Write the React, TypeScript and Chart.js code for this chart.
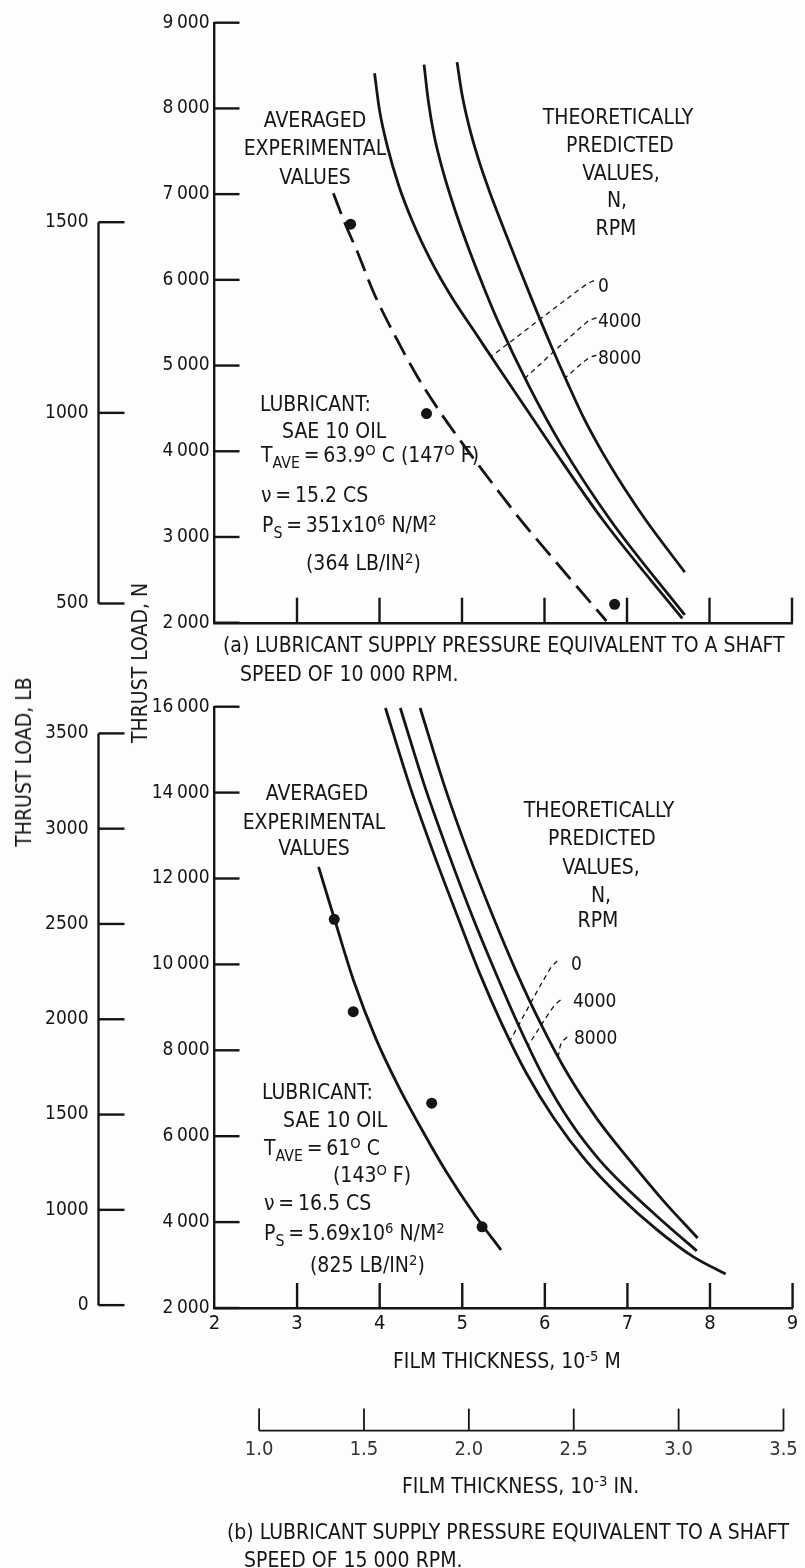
import React, { useEffect, useRef } from 'react';
import { Chart, registerables } from 'chart.js';

Chart.register(...registerables);

const FONT = "'DejaVu Sans Condensed', 'Liberation Sans Narrow', 'Arial Narrow', sans-serif";
const INK = '#151515';
const PAPER = '#fdfdfd';
const N_PER_LB = 4.448222;
const M5_PER_IN3 = 2.54; // 1e-3 in = 2.54e-5 m

// ---------- shared film-thickness axes ----------
const thicknessTicks = [2, 3, 4, 5, 6, 7, 8, 9];
const thicknessTickLabels = ['2', '3', '4', '5', '6', '7', '8', '9'];
const inchTicks = [1.0, 1.5, 2.0, 2.5, 3.0, 3.5];
const inchTickLabels = ['1.0', '1.5', '2.0', '2.5', '3.0', '3.5'];

// ---------- panel (a) ----------
const loadTicksA = [2000, 3000, 4000, 5000, 6000, 7000, 8000, 9000];
const loadTickLabelsA = ['2\u2009000', '3\u2009000', '4\u2009000', '5\u2009000', '6\u2009000', '7\u2009000', '8\u2009000', '9\u2009000'];
const lbTicksA = [500, 1000, 1500];
const lbTickLabelsA = ['500', '1000', '1500'];
const lbRangeA = [2000 / N_PER_LB, 9000 / N_PER_LB];

const expCurveA_thk = [3.44, 3.59, 3.73, 3.93, 4.17, 4.46, 4.74, 5.06, 5.31, 5.46, 5.71, 6.19, 6.75];
const expCurveA_load = [7010, 6640, 6330, 5850, 5380, 4870, 4450, 4020, 3700, 3510, 3200, 2650, 2020];
const expPointsA_thk = [3.65, 4.57, 6.85];
const expPointsA_load = [6650, 4440, 2215];

const theoA0_thk = [3.94, 4.0, 4.1, 4.23, 4.4, 4.62, 4.88, 5.17, 5.46, 6.07, 6.71, 7.67];
const theoA0_load = [8410, 7980, 7540, 7110, 6680, 6230, 5790, 5370, 4950, 4080, 3195, 2050];
const theoA4000_thk = [4.54, 4.59, 4.66, 4.77, 4.92, 5.1, 5.29, 5.46, 5.82, 6.19, 6.8, 7.7];
const theoA4000_load = [8510, 8100, 7695, 7265, 6800, 6315, 5850, 5465, 4745, 4095, 3195, 2090];
const theoA8000_thk = [4.94, 5.0, 5.09, 5.2, 5.33, 5.46, 5.66, 5.86, 6.07, 6.28, 6.48, 6.7, 6.97, 7.24, 7.7];
const theoA8000_load = [8540, 8165, 7775, 7405, 7040, 6710, 6220, 5740, 5255, 4795, 4380, 3990, 3565, 3180, 2590];

const leaderA0_thk = [6.6, 6.51, 5.36];
const leaderA0_load = [5990, 5950, 5110];
const leaderA4000_thk = [6.63, 6.53, 5.76];
const leaderA4000_load = [5555, 5520, 4850];
const leaderA8000_thk = [6.63, 6.54, 6.26];
const leaderA8000_load = [5120, 5090, 4865];

// ---------- panel (b) ----------
const loadTicksB = [2000, 4000, 6000, 8000, 10000, 12000, 14000, 16000];
const loadTickLabelsB = ['2\u2009000', '4\u2009000', '6\u2009000', '8\u2009000', '10\u2009000', '12\u2009000', '14\u2009000', '16\u2009000'];
const lbTicksB = [500, 1000, 1500, 2000, 2500, 3000, 3500];
const lbTickLabelsB = ['0', '1000', '1500', '2000', '2500', '3000', '3500'];
const lbRangeB = [485, 3640];

const expCurveB_thk = [3.26, 3.46, 3.69, 3.95, 4.22, 4.5, 4.81, 5.15, 5.47];
const expCurveB_load = [12270, 11010, 9590, 8290, 7190, 6190, 5160, 4170, 3350];
const expPointsB_thk = [3.45, 3.68, 4.63, 5.24];
const expPointsB_load = [11050, 8900, 6770, 3890];

const theoB0_thk = [4.07, 4.36, 4.66, 4.95, 5.22, 5.48, 5.77, 6.11, 6.49, 6.9, 7.36, 7.8, 8.19];
const theoB0_load = [15970, 14180, 12550, 11080, 9750, 8610, 7490, 6420, 5450, 4610, 3820, 3190, 2790];
const theoB4000_thk = [4.25, 4.54, 4.84, 5.13, 5.39, 5.68, 5.99, 6.31, 6.66, 7.04, 7.45, 7.84];
const theoB4000_load = [15970, 14180, 12550, 11080, 9870, 8590, 7360, 6330, 5450, 4700, 3980, 3330];
const theoB8000_thk = [4.49, 4.78, 5.08, 5.38, 5.65, 5.95, 6.27, 6.63, 7.03, 7.42, 7.85];
const theoB8000_load = [15970, 14180, 12550, 11080, 9850, 8620, 7470, 6410, 5430, 4530, 3630];

const leaderB0_thk = [6.15, 6.07, 5.58];
const leaderB0_load = [10080, 9920, 8230];
const leaderB4000_thk = [6.19, 6.11, 5.8];
const leaderB4000_load = [9170, 9030, 8120];
const leaderB8000_thk = [6.27, 6.2, 6.16];
const leaderB8000_load = [8310, 8170, 7830];

const rpmLabels = ['0', '4000', '8000'];

// ---------- helpers ----------
const pts = (xs: number[], ys: number[]) => xs.map((x, i) => ({ x, y: ys[i] }));
const labelFor = (vals: number[], labels: string[]) => (v: any) => {
  const i = vals.findIndex((t) => Math.abs(t - Number(v)) < 1e-6);
  return i >= 0 ? labels[i] : '';
};

const curve = (xs: number[], ys: number[], dash: number[] = []) => ({
  data: pts(xs, ys),
  showLine: true,
  borderColor: INK,
  borderWidth: 2.8,
  borderDash: dash,
  pointRadius: 0,
  cubicInterpolationMode: 'monotone',
  fill: false,
});
const leader = (xs: number[], ys: number[]) => ({
  data: pts(xs, ys),
  showLine: true,
  borderColor: INK,
  borderWidth: 1.3,
  borderDash: [5, 4],
  pointRadius: 0,
  tension: 0.35,
  fill: false,
});
const dots = (xs: number[], ys: number[]) => ({
  data: pts(xs, ys),
  showLine: false,
  pointRadius: 5.5,
  pointBackgroundColor: INK,
  pointBorderWidth: 0,
  order: -1,
});

const TICK = 25;
const LB_TICK = 26;
const IN_TICK = 22;

const decorPlugin = {
  id: 'decor',
  afterDraw(chart: any) {
    const ctx = chart.ctx;
    const { left, bottom } = chart.chartArea;
    const seg = (x1: number, y1: number, x2: number, y2: number) => {
      ctx.beginPath();
      ctx.moveTo(x1, y1);
      ctx.lineTo(x2, y2);
      ctx.stroke();
    };
    ctx.save();
    ctx.strokeStyle = INK;
    ctx.lineWidth = 2.4;
    ctx.lineCap = 'butt';
    const y = chart.scales.y;
    y.ticks.forEach((t: any) => {
      const p = y.getPixelForValue(t.value);
      seg(left, p, left + TICK, p);
    });
    const x = chart.scales.x;
    x.ticks.forEach((t: any) => {
      if (t.value <= x.min) return;
      const p = x.getPixelForValue(t.value);
      seg(p, bottom, p, bottom - TICK);
    });
    const lb = chart.scales.yLb;
    if (lb) {
      const vals = lb.ticks.map((t: any) => t.value);
      const xr = lb.right;
      seg(xr, lb.getPixelForValue(vals[0]), xr, lb.getPixelForValue(vals[vals.length - 1]));
      vals.forEach((v: number) => {
        const p = lb.getPixelForValue(v);
        seg(xr, p, xr + LB_TICK, p);
      });
    }
    const xi = chart.scales.xIn;
    if (xi) {
      const vals = xi.ticks.map((t: any) => t.value);
      ctx.lineWidth = 1.8;
      seg(xi.getPixelForValue(vals[0]), xi.top, xi.getPixelForValue(vals[vals.length - 1]), xi.top);
      vals.forEach((v: number) => {
        const p = xi.getPixelForValue(v);
        seg(p, xi.top, p, xi.top - IN_TICK);
      });
    }
    ctx.restore();
  },
};

type Spec = {
  padding: any;
  yMin: number;
  yMax: number;
  yTicks: number[];
  yLabels: string[];
  lbRange: number[];
  lbTicks: number[];
  lbLabels: string[];
  showXLabels: boolean;
  xHeight: number;
  inch: boolean;
  xInHeight?: number;
  datasets: any[];
};

function buildChart(canvas: HTMLCanvasElement, s: Spec) {
  const scales: any = {
    x: {
      type: 'linear',
      position: 'bottom',
      weight: 0,
      min: 2,
      max: 9,
      afterBuildTicks: (sc: any) => {
        sc.ticks = thicknessTicks.map((v) => ({ value: v }));
      },
      afterFit: (sc: any) => {
        sc.height = s.xHeight;
      },
      grid: { display: true, drawOnChartArea: false, drawTicks: false },
      border: { display: true, color: INK, width: 2.4 },
      ticks: {
        display: s.showXLabels,
        autoSkip: false,
        maxRotation: 0,
        padding: 4,
        color: INK,
        font: { family: FONT, size: 20 },
        callback: labelFor(thicknessTicks, thicknessTickLabels),
      },
    },
    y: {
      type: 'linear',
      position: 'left',
      weight: 0,
      min: s.yMin,
      max: s.yMax,
      afterBuildTicks: (sc: any) => {
        sc.ticks = s.yTicks.map((v) => ({ value: v }));
      },
      afterFit: (sc: any) => {
        sc.width = 116;
      },
      grid: { display: true, drawOnChartArea: false, drawTicks: false },
      border: { display: true, color: INK, width: 2.4 },
      ticks: {
        autoSkip: false,
        padding: 5,
        color: INK,
        font: { family: FONT, size: 19 },
        callback: labelFor(s.yTicks, s.yLabels),
      },
    },
    yLb: {
      type: 'linear',
      position: 'left',
      weight: 1,
      min: s.lbRange[0],
      max: s.lbRange[1],
      afterBuildTicks: (sc: any) => {
        sc.ticks = s.lbTicks.map((v) => ({ value: v }));
      },
      afterFit: (sc: any) => {
        sc.width = 98.5;
      },
      grid: { display: false, drawTicks: false },
      border: { display: false },
      ticks: {
        autoSkip: false,
        padding: 10,
        color: INK,
        font: { family: FONT, size: 19 },
        callback: labelFor(s.lbTicks, s.lbLabels),
      },
    },
  };
  if (s.inch) {
    scales.xIn = {
      type: 'linear',
      position: 'bottom',
      weight: 1,
      min: 2 / M5_PER_IN3,
      max: 9 / M5_PER_IN3,
      afterBuildTicks: (sc: any) => {
        sc.ticks = inchTicks.map((v) => ({ value: v }));
      },
      afterFit: (sc: any) => {
        sc.height = s.xInHeight;
      },
      grid: { display: false, drawTicks: false },
      border: { display: false },
      ticks: {
        autoSkip: false,
        maxRotation: 0,
        padding: 7,
        color: '#333',
        font: { family: FONT, size: 20 },
        callback: labelFor(inchTicks, inchTickLabels),
      },
    };
  }
  return new Chart(canvas, {
    type: 'scatter',
    data: { datasets: s.datasets },
    options: {
      responsive: false,
      maintainAspectRatio: false,
      animation: false,
      layout: { padding: s.padding },
      plugins: { legend: { display: false }, tooltip: { enabled: false } },
      events: [],
      scales,
    } as any,
    plugins: [decorPlugin],
  } as any);
}

const specA: Spec = {
  padding: { top: 22.7, right: 13, bottom: 0, left: 0 },
  yMin: 2000,
  yMax: 9000,
  yTicks: loadTicksA,
  yLabels: loadTickLabelsA,
  lbRange: lbRangeA,
  lbTicks: lbTicksA,
  lbLabels: lbTickLabelsA,
  showXLabels: false,
  xHeight: 37.3,
  inch: false,
  datasets: [
    curve(expCurveA_thk, expCurveA_load, [22, 9]),
    curve(theoA0_thk, theoA0_load),
    curve(theoA4000_thk, theoA4000_load),
    curve(theoA8000_thk, theoA8000_load),
    leader(leaderA0_thk, leaderA0_load),
    leader(leaderA4000_thk, leaderA4000_load),
    leader(leaderA8000_thk, leaderA8000_load),
    dots(expPointsA_thk, expPointsA_load),
  ],
};

const specB: Spec = {
  padding: { top: 46.7, right: 5, bottom: 0, left: 0 },
  yMin: 2000,
  yMax: 16000,
  yTicks: loadTicksB,
  yLabels: loadTickLabelsB,
  lbRange: lbRangeB,
  lbTicks: lbTicksB,
  lbLabels: lbTickLabelsB,
  showXLabels: true,
  xHeight: 122.6,
  inch: true,
  xInHeight: 137.4,
  datasets: [
    curve(expCurveB_thk, expCurveB_load),
    curve(theoB0_thk, theoB0_load),
    curve(theoB4000_thk, theoB4000_load),
    curve(theoB8000_thk, theoB8000_load),
    leader(leaderB0_thk, leaderB0_load),
    leader(leaderB4000_thk, leaderB4000_load),
    leader(leaderB8000_thk, leaderB8000_load),
    dots(expPointsB_thk, expPointsB_load),
  ],
};

// ---------- text helpers ----------
const SUP: React.CSSProperties = { fontSize: '0.7em', verticalAlign: '0.5em', lineHeight: 0 };
const SUB: React.CSSProperties = { fontSize: '0.75em', verticalAlign: '-0.4em', lineHeight: 0 };
const EQ = '\u2009=\u2009';

function Txt(props: { x: number; y: number; c?: boolean; size?: number; children: any }) {
  const { x, y, c, size = 21, children } = props;
  return (
    <div
      style={{
        position: 'absolute',
        left: x,
        top: y - 13,
        fontSize: size,
        lineHeight: '26px',
        whiteSpace: 'nowrap',
        transform: c ? 'translateX(-50%)' : undefined,
      }}
    >
      {children}
    </div>
  );
}

function VTxt(props: { x: number; y: number; children: any }) {
  return (
    <div
      style={{
        position: 'absolute',
        left: props.x,
        top: props.y,
        fontSize: 21,
        lineHeight: '26px',
        whiteSpace: 'nowrap',
        transform: 'translate(-50%, -50%) rotate(-90deg)',
      }}
    >
      {props.children}
    </div>
  );
}

export default function App() {
  const refA = useRef<HTMLCanvasElement>(null);
  const refB = useRef<HTMLCanvasElement>(null);

  useEffect(() => {
    const a = buildChart(refA.current as HTMLCanvasElement, specA);
    const b = buildChart(refB.current as HTMLCanvasElement, specB);
    return () => {
      a.destroy();
      b.destroy();
    };
  }, []);

  return (
    <div
      style={{
        position: 'absolute',
        left: 0,
        top: 0,
        width: 805,
        height: 1568,
        background: PAPER,
        color: INK,
        fontFamily: FONT,
        overflow: 'hidden',
      }}
    >
      <canvas ref={refA} width={805} height={660} style={{ position: 'absolute', left: 0, top: 0, display: 'block' }} />
      <canvas ref={refB} width={805} height={908} style={{ position: 'absolute', left: 0, top: 660, display: 'block' }} />

      {/* axis titles */}
      <VTxt x={24} y={762}>THRUST LOAD, LB</VTxt>
      <VTxt x={140} y={663}>THRUST LOAD, N</VTxt>

      {/* panel (a) annotations */}
      <Txt x={315} y={120} c>AVERAGED</Txt>
      <Txt x={315} y={148} c>EXPERIMENTAL</Txt>
      <Txt x={315} y={177} c>VALUES</Txt>
      <Txt x={618} y={117} c>THEORETICALLY</Txt>
      <Txt x={620} y={145} c>PREDICTED</Txt>
      <Txt x={621} y={173} c>VALUES,</Txt>
      <Txt x={617} y={200} c>N,</Txt>
      <Txt x={616} y={228} c>RPM</Txt>
      <Txt x={598} y={285} size={19}>{rpmLabels[0]}</Txt>
      <Txt x={598} y={320} size={19}>{rpmLabels[1]}</Txt>
      <Txt x={598} y={357} size={19}>{rpmLabels[2]}</Txt>

      <Txt x={260} y={404}>LUBRICANT:</Txt>
      <Txt x={282} y={431}>SAE 10 OIL</Txt>
      <Txt x={261} y={455}>
        T<span style={SUB}>AVE</span>
        {EQ}63.9<span style={SUP}>O</span> C (147<span style={SUP}>O</span> F)
      </Txt>
      <Txt x={261} y={495}>ν{EQ}15.2 CS</Txt>
      <Txt x={262} y={525}>
        P<span style={SUB}>S</span>
        {EQ}351x10<span style={SUP}>6</span> N/M<span style={SUP}>2</span>
      </Txt>
      <Txt x={306} y={563}>
        (364 LB/IN<span style={SUP}>2</span>)
      </Txt>

      <Txt x={223} y={645}>(a) LUBRICANT SUPPLY PRESSURE EQUIVALENT TO A SHAFT</Txt>
      <Txt x={240} y={674}>SPEED OF 10 000 RPM.</Txt>

      {/* panel (b) annotations */}
      <Txt x={317} y={793} c>AVERAGED</Txt>
      <Txt x={314} y={822} c>EXPERIMENTAL</Txt>
      <Txt x={314} y={848} c>VALUES</Txt>
      <Txt x={599} y={810} c>THEORETICALLY</Txt>
      <Txt x={602} y={838} c>PREDICTED</Txt>
      <Txt x={601} y={867} c>VALUES,</Txt>
      <Txt x={601} y={895} c>N,</Txt>
      <Txt x={598} y={920} c>RPM</Txt>
      <Txt x={571} y={963} size={19}>{rpmLabels[0]}</Txt>
      <Txt x={573} y={1000} size={19}>{rpmLabels[1]}</Txt>
      <Txt x={574} y={1037} size={19}>{rpmLabels[2]}</Txt>

      <Txt x={262} y={1092}>LUBRICANT:</Txt>
      <Txt x={283} y={1120}>SAE 10 OIL</Txt>
      <Txt x={264} y={1148}>
        T<span style={SUB}>AVE</span>
        {EQ}61<span style={SUP}>O</span> C
      </Txt>
      <Txt x={333} y={1175}>
        (143<span style={SUP}>O</span> F)
      </Txt>
      <Txt x={264} y={1203}>ν{EQ}16.5 CS</Txt>
      <Txt x={264} y={1233}>
        P<span style={SUB}>S</span>
        {EQ}5.69x10<span style={SUP}>6</span> N/M<span style={SUP}>2</span>
      </Txt>
      <Txt x={310} y={1265}>
        (825 LB/IN<span style={SUP}>2</span>)
      </Txt>

      <Txt x={393} y={1361}>
        FILM THICKNESS, 10<span style={SUP}>-5</span> M
      </Txt>
      <Txt x={402} y={1486}>
        FILM THICKNESS, 10<span style={SUP}>-3</span> IN.
      </Txt>
      <Txt x={227} y={1532}>(b) LUBRICANT SUPPLY PRESSURE EQUIVALENT TO A SHAFT</Txt>
      <Txt x={244} y={1560}>SPEED OF 15 000 RPM.</Txt>
    </div>
  );
}
